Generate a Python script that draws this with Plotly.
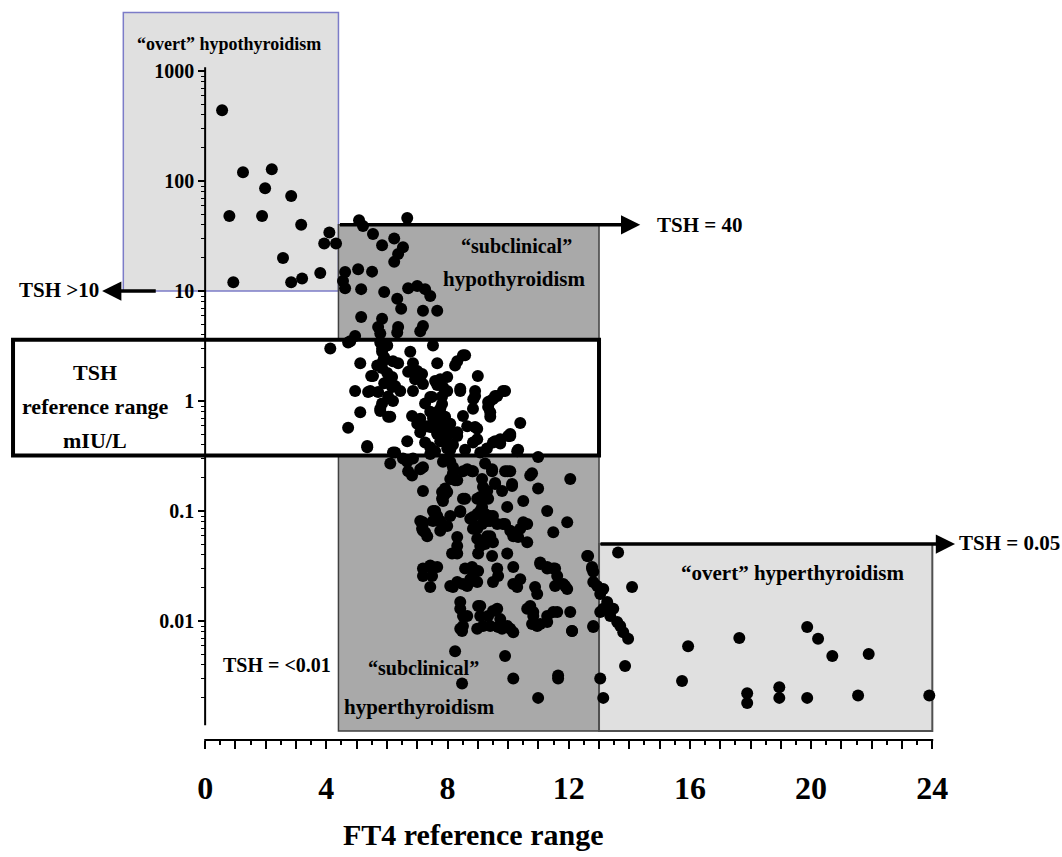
import math
import plotly.graph_objects as go

# ---------------- data (FT4 on x, TSH mIU/L on y) ----------------
ft4_high = [0.56, 1.25, 2.2, 1.98, 2.84, 0.8, 1.88, 3.17, 4.1, 3.93, 4.32, 2.57, 0.93, 2.84, 3.2, 3.8]
tsh_high = [440, 120, 128, 86, 73, 48, 48, 40, 34, 27, 27, 20, 12, 12, 13, 14.6]

ft4_upper = [5.08, 6.67, 5.21, 5.54, 5.84, 6.24, 6.53, 6.37, 6.24, 4.62, 5.05, 5.51, 4.55, 4.62, 5.15, 5.91,
             6.34, 6.47, 6.7, 7.0, 7.26, 7.43, 7.19, 7.66, 5.15, 5.84, 5.71, 6.37, 7.19, 7.1, 4.95, 4.72,
             5.78, 5.78, 6.01, 6.34, 4.13, 6.77, 7.52, 8.58, 8.32, 5.12, 5.84, 5.87, 6.2, 6.86, 7.66, 4.79]
tsh_upper = [44, 46, 39, 33, 26, 30, 25, 21.7, 18.4, 14.9, 15.8, 15, 12.3, 10.6, 10.4, 9.8,
             8.5, 6.9, 10.6, 11.1, 10.4, 9.0, 6.6, 6.6, 5.8, 5.6, 4.7, 4.7, 4.8, 4.3, 3.9, 3.4,
             4.1, 3.4, 3.2, 4.2, 3.0, 2.8, 3.2, 2.6, 2.3, 2.2, 2.8, 2.3, 2.3, 2.2, 2.2, 3.5]

ft4_mid = [5.48, 5.68, 4.95, 5.38, 5.71, 6.11, 6.27, 6.37, 6.7, 6.93, 7.0, 6.86, 7.19, 8.25, 8.51, 9.0,
           7.49, 7.76, 7.99, 7.82, 8.42, 8.85, 9.34, 9.64, 9.9, 9.41, 5.12, 5.78, 6.04, 4.72, 6.83, 7.1,
           7.33, 7.66, 7.66, 7.99, 8.32, 8.65, 8.98, 8.84, 9.74, 10.07, 10.4, 5.35, 6.67, 7.99, 9.08, 10.3,
           6.2, 5.54, 6.17, 7.16, 7.59, 7.99, 5.45, 6.17, 6.44, 7.43, 7.85, 8.42, 8.91, 9.5, 9.83, 5.78,
           6.11, 7.0, 7.1, 7.43, 7.66, 7.76, 8.32, 8.51, 8.91, 8.98, 9.41, 9.5, 10.07, 5.35, 8.91, 8.84,
           9.41, 9.57, 9.34, 9.57, 9.74, 10.0, 10.33, 5.84, 5.91, 5.84, 6.01, 5.91, 6.04, 5.84, 6.2, 7.26,
           7.43, 7.52, 7.59, 7.76, 8.09, 7.26, 7.43, 7.59, 8.18, 8.58, 9.3, 7.66, 7.82, 7.76, 7.92, 7.82,
           7.99, 7.92, 8.09]
tsh_mid = [1.69, 2.1, 1.23, 1.21, 1.21, 1.52, 1.37, 2.2, 1.84, 1.58, 1.87, 1.23, 1.43, 2.1, 2.6, 1.69,
           1.09, 1.58, 1.23, 0.94, 1.23, 1.04, 0.98, 1.11, 1.23, 0.79, 0.79, 0.85, 0.72, 0.57, 0.73, 0.69,
           0.59, 0.79, 0.52, 0.48, 0.52, 0.59, 0.56, 0.42, 0.45, 0.48, 0.63, 0.38, 0.43, 0.37, 0.34, 0.35,
           0.34, 1.69, 1.65, 1.76, 1.52, 1.65, 1.23, 1.34, 1.23, 1.09, 1.34, 1.29, 1.11, 1.04, 1.23, 0.81,
           0.72, 0.62, 0.52, 0.58, 0.5, 0.43, 0.48, 0.73, 0.58, 0.45, 0.72, 0.42, 0.5, 0.39, 1.23, 0.85,
           1.0, 1.11, 0.88, 0.43, 0.41, 0.48, 0.36, 3.0, 2.5, 2.0, 1.8, 1.45, 1.1, 0.95, 1.0, 0.95,
           0.8, 0.7, 0.62, 0.66, 0.62, 0.42, 0.38, 0.35, 0.4, 0.36, 0.37, 1.4, 1.1, 0.85, 0.72, 0.6,
           0.56, 0.42, 0.36]

ft4_low = [6.27, 6.11, 6.53, 6.7, 7.1, 7.19, 7.43, 7.85, 7.92, 7.85, 8.25, 8.18, 8.51, 8.58, 8.84, 9.17,
           9.24, 9.47, 9.57, 9.97, 10.13, 9.97, 7.59, 7.52, 7.1, 7.19, 7.76, 8.09, 8.42, 8.98, 8.98, 9.31,
           9.64, 6.67, 6.86, 6.83, 7.19, 7.82, 7.92, 7.82, 8.09, 8.32, 8.65, 8.81, 9.08, 9.31, 9.34, 9.47,
           9.57, 9.9, 10.07, 10.13, 10.5, 10.79, 10.99, 10.99, 12.05, 7.52, 7.19, 7.16, 7.33, 7.76, 7.99, 8.42,
           8.75, 8.84, 9.08, 9.17, 9.41, 9.5, 8.98, 9.08, 9.41, 9.5, 8.32, 8.32, 8.15, 8.32, 9.01, 9.47,
           9.97, 9.9, 10.17, 10.33, 10.63, 10.5, 10.63, 11.29, 11.49, 11.95, 12.64, 12.77, 7.43, 7.66, 7.19, 8.58,
           8.81, 9.01, 9.64, 10.17, 11.06, 11.29, 11.55, 7.43, 8.18, 8.51, 8.75, 9.5, 9.67, 10.17, 10.3, 10.4,
           10.89, 10.96, 11.55, 11.82, 11.95, 12.81, 12.94, 13.04, 8.42, 8.65, 8.51, 8.48, 9.01, 9.08, 9.17, 8.98,
           9.5, 9.74, 9.67, 9.97, 10.17, 10.63, 10.83, 10.79, 11.06, 11.29, 11.49, 12.05, 12.11, 12.81, 8.25, 9.9,
           10.17, 8.48, 11.65, 11.65, 10.99, 10.73, 9.14, 9.8, 8.09, 8.18, 7.99, 7.85, 7.66, 7.19, 7.26, 8.51,
           8.98, 9.14, 8.84, 9.14, 8.98, 9.24, 9.41, 9.31, 9.24, 9.83, 10.07, 10.4, 10.56, 11.06, 11.29, 11.49,
           11.62, 11.88, 12.61, 12.77, 12.81, 7.19, 7.43, 7.49, 8.09, 8.32, 8.65, 8.84, 8.98, 8.42, 8.51, 8.42,
           9.08, 9.34, 9.41, 9.64, 9.8, 10.07, 10.73, 10.83, 10.96, 11.29, 11.62, 12.11, 12.81]
tsh_low = [0.34, 0.27, 0.30, 0.23, 0.24, 0.152, 0.33, 0.28, 0.143, 0.134, 0.19, 0.25, 0.23, 0.129, 0.23, 0.165,
           0.27, 0.23, 0.18, 0.23, 0.176, 0.109, 0.1, 0.081, 0.081, 0.066, 0.066, 0.09, 0.1, 0.094, 0.072, 0.081,
           0.076, 0.28, 0.30, 0.21, 0.25, 0.149, 0.16, 0.129, 0.28, 0.19, 0.24, 0.23, 0.134, 0.152, 0.129, 0.24,
           0.176, 0.23, 0.23, 0.169, 0.123, 0.22, 0.31, 0.16, 0.195, 0.1, 0.079, 0.069, 0.059, 0.081, 0.073, 0.098,
           0.085, 0.069, 0.1, 0.09, 0.081, 0.09, 0.056, 0.048, 0.059, 0.052, 0.058, 0.048, 0.041, 0.041, 0.041, 0.039,
           0.041, 0.076, 0.059, 0.058, 0.052, 0.079, 0.076, 0.1, 0.064, 0.079, 0.039, 0.03, 0.031, 0.031, 0.0257, 0.03,
           0.031, 0.0285, 0.03, 0.031, 0.033, 0.031, 0.03, 0.0204, 0.0204, 0.0217, 0.024, 0.0226, 0.0257, 0.0217, 0.0204, 0.024,
           0.0204, 0.0176, 0.0208, 0.0217, 0.0195, 0.028, 0.0208, 0.0176, 0.0129, 0.0111, 0.009, 0.0081, 0.0137, 0.0111, 0.009, 0.0085,
           0.0123, 0.0104, 0.0088, 0.009, 0.0079, 0.0129, 0.0121, 0.0094, 0.0094, 0.0098, 0.0121, 0.0121, 0.0081, 0.0088, 0.0053, 0.0048,
           0.003, 0.0027, 0.0032, 0.003, 0.002, 0.21, 0.195, 0.152, 0.195, 0.22, 0.149, 0.123, 0.09, 0.076, 0.064, 0.129,
           0.129, 0.109, 0.088, 0.076, 0.069, 0.094, 0.09, 0.059, 0.05, 0.076, 0.066, 0.069, 0.076, 0.034, 0.03, 0.03,
           0.0257, 0.0208, 0.039, 0.031, 0.0226, 0.03, 0.032, 0.0257, 0.0208, 0.0226, 0.0208, 0.0257, 0.0226, 0.0149, 0.0111, 0.0085,
           0.0137, 0.0111, 0.009, 0.0129, 0.0085, 0.0085, 0.0137, 0.0111, 0.009, 0.0111, 0.0121, 0.0081, 0.009]

ft4_very_low = [13.63, 13.14, 14.09, 13.27, 13.47, 13.37, 13.04, 13.14, 13.6, 13.7, 13.8, 13.96, 13.86, 13.04, 13.14,
                15.94, 15.74, 17.63, 17.89, 17.89, 18.95, 18.95, 19.87, 20.23, 20.7, 19.87, 21.55, 21.9, 23.9]
tsh_very_low = [0.042, 0.0195, 0.0204, 0.0149, 0.0129, 0.0111, 0.0121, 0.0129, 0.0098, 0.009, 0.0079, 0.0069, 0.0039, 0.003, 0.002,
                0.0059, 0.00285, 0.007, 0.0022, 0.0018, 0.0025, 0.002, 0.0088, 0.0069, 0.0048, 0.002, 0.0021, 0.005, 0.0021]

# thresholds / categories
FT4_LOW_LIMIT, FT4_HIGH_LIMIT, FT4_MAX = 4.4, 13.0, 24.0
TSH_REF_LOW, TSH_REF_HIGH = 0.32, 3.6
TSH_OVERT_HYPO, TSH_SUBCLIN_TOP, TSH_OVERT_HYPER = 10, 40, 0.05
TSH_FLOOR = 0.001
y_tickvals = [0.01, 0.1, 1, 10, 100, 1000]
y_ticktext = ["0.01", "0.1", "1", "10", "100", "1000"]
x_labels = [0, 4, 8, 12, 16, 20, 24]

# ---------------- figure geometry ----------------
W, H = 1062, 857
X_RANGE = [-6.77, 28.28]
Y_LOG_RANGE = [-4.1455, 3.6455]
FONT = "Liberation Serif"


def px_x(p):
    return p / W


def px_y(p):
    return 1 - p / H


all_x = ft4_high + ft4_upper + ft4_mid + ft4_low + ft4_very_low
all_y = tsh_high + tsh_upper + tsh_mid + tsh_low + tsh_very_low

fig = go.Figure()
fig.add_trace(go.Scatter(x=all_x, y=all_y, mode="markers",
                         marker=dict(color="black", size=12, line=dict(width=0)),
                         hoverinfo="x+y"))

LIGHT = "#e0e0e0"
DARK = "#a9a9a9"
shapes = [
    dict(type="rect", xref="x", yref="y", x0=-2.7, x1=FT4_LOW_LIMIT, y0=TSH_OVERT_HYPO, y1=3400,
         fillcolor=LIGHT, line=dict(color="#7c7cc8", width=1.5), layer="below"),
    dict(type="rect", xref="x", yref="y", x0=FT4_LOW_LIMIT, x1=FT4_HIGH_LIMIT, y0=TSH_REF_HIGH, y1=TSH_SUBCLIN_TOP,
         fillcolor=DARK, line=dict(color="#404040", width=1.5), layer="below"),
    dict(type="rect", xref="x", yref="y", x0=FT4_LOW_LIMIT, x1=FT4_HIGH_LIMIT, y0=TSH_FLOOR, y1=TSH_REF_LOW,
         fillcolor=DARK, line=dict(color="#404040", width=1.5), layer="below"),
    dict(type="rect", xref="x", yref="y", x0=FT4_HIGH_LIMIT, x1=FT4_MAX, y0=TSH_FLOOR, y1=TSH_OVERT_HYPER,
         fillcolor=LIGHT, line=dict(color="#505050", width=2), layer="below"),
    dict(type="rect", xref="x", yref="y", x0=-6.34, x1=FT4_HIGH_LIMIT, y0=TSH_REF_LOW, y1=TSH_REF_HIGH,
         fillcolor="white", line=dict(color="black", width=4), layer="below"),
    # axis lines
    dict(type="line", xref="x", yref="y", x0=0, x1=0, y0=0.00113, y1=1080,
         line=dict(color="black", width=2), layer="below"),
    dict(type="line", xref="x", yref="y", x0=-0.03, x1=FT4_MAX + 0.03, y0=0.00083, y1=0.00083,
         line=dict(color="black", width=2), layer="below"),
]

ann = []


def arrow(x_tip, x_tail, yv):
    ann.append(dict(x=x_tip, y=math.log10(yv), ax=x_tail, ay=math.log10(yv), xref="x", yref="y",
                    axref="x", ayref="y", text="", showarrow=True, arrowhead=2, arrowsize=1.1,
                    arrowwidth=3.5, arrowcolor="black"))


arrow(14.36, FT4_LOW_LIMIT, TSH_SUBCLIN_TOP)
arrow(24.75, FT4_HIGH_LIMIT, TSH_OVERT_HYPER)
arrow(-3.4, -1.58, TSH_OVERT_HYPO)


def label(text, cx, cy, size, xanchor="center"):
    ann.append(dict(x=px_x(cx), y=px_y(cy), xref="paper", yref="paper", text=text, showarrow=False,
                    xanchor=xanchor, yanchor="middle",
                    font=dict(family=FONT, size=size, color="black", weight="bold")))


label("“overt” hypothyroidism", 229, 44, 18)
label("“subclinical”", 516, 246, 20)
label("hypothyroidism", 514, 279, 21)
label("TSH", 95, 372, 22)
label("reference range", 95, 406, 22)
label("mIU/L", 95, 440, 22)
label("“overt” hyperthyroidism", 793, 573, 21)
label("“subclinical”", 423, 668, 20)
label("hyperthyroidism", 419, 707, 21)
label("TSH = <0.01", 277, 665, 20)
label("TSH = 40", 655, 225, 21, "left")
label("TSH = 0.05", 957, 543, 21, "left")
label("TSH >10", 101, 290, 21, "right")
label("FT4 reference range", 473, 834, 30)

fig.update_layout(
    width=W, height=H, margin=dict(l=0, r=0, t=0, b=0),
    plot_bgcolor="white", paper_bgcolor="white", showlegend=False,
    shapes=shapes, annotations=ann,
    xaxis=dict(range=X_RANGE, domain=[0, 1], anchor="free", position=px_y(740),
               showgrid=False, zeroline=False, showline=False,
               tickvals=list(range(0, 25)),
               ticktext=[str(v) if v in x_labels else "" for v in range(0, 25)],
               ticks="outside", ticklen=8, tickwidth=1.5, tickcolor="black",
               minor=dict(tickvals=[v + 0.5 for v in range(0, 24)], ticks="outside", ticklen=4,
                          tickwidth=1.5, tickcolor="black"),
               tickfont=dict(family=FONT, size=32, color="black", weight="bold"),
               ticklabelstandoff=12),
    yaxis=dict(type="log", range=Y_LOG_RANGE, domain=[0, 1], anchor="free",
               position=(0 - X_RANGE[0]) / (X_RANGE[1] - X_RANGE[0]),
               showgrid=False, zeroline=False, showline=False,
               tickvals=y_tickvals, ticktext=y_ticktext,
               ticks="outside", ticklen=7, tickwidth=1.5, tickcolor="black",
               minor=dict(tickvals=[m * 10 ** e for e in range(-3, 3) for m in range(2, 10)],
                          ticks="outside", ticklen=4, tickwidth=1.2, tickcolor="black"),
               tickfont=dict(family=FONT, size=20, color="black", weight="bold")),
)

fig.write_html("out.html")
